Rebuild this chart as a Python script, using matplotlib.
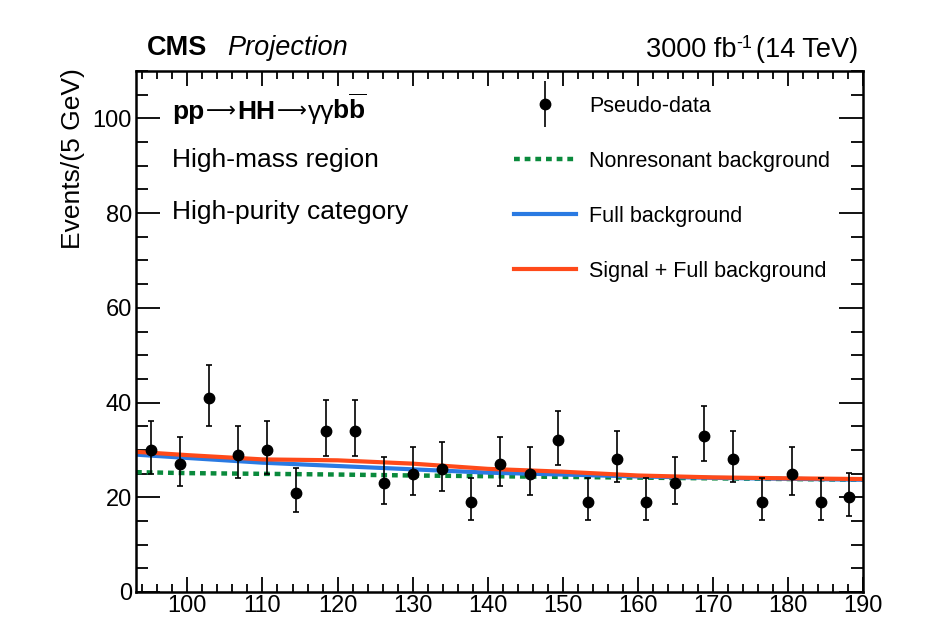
import numpy as np
import matplotlib.pyplot as plt
from matplotlib.ticker import MultipleLocator
from matplotlib.legend_handler import HandlerErrorbar
from matplotlib.transforms import IdentityTransform

plt.rcParams['font.family'] = ['Liberation Sans', 'DejaVu Sans']
plt.rcParams['mathtext.fontset'] = 'custom'
plt.rcParams['mathtext.rm'] = 'Liberation Sans'
plt.rcParams['mathtext.it'] = 'Liberation Sans:italic'
plt.rcParams['mathtext.bf'] = 'Liberation Sans:bold'

# pseudo-data (bin centres, counts)
mass = [95.1, 99.0, 102.9, 106.8, 110.6, 114.5, 118.4, 122.3, 126.2, 130.0,
        133.9, 137.8, 141.7, 145.6, 149.4, 153.3, 157.2, 161.1, 165.0, 168.8,
        172.7, 176.6, 180.5, 184.4, 188.2]
events = [30, 27, 41, 29, 30, 21, 34, 34, 23, 25,
          26, 19, 27, 25, 32, 19, 28, 19, 23, 33,
          28, 19, 25, 19, 20]

# fitted curves, read at a few masses
curve_x = [93.15, 100, 110, 120, 130, 140, 150, 160, 170, 180, 190]
nonres = [25.3, 25.1, 24.95, 24.8, 24.6, 24.45, 24.3, 24.15, 24.0, 23.85, 23.7]
full_bkg = [29.0, 28.3, 27.3, 26.6, 25.9, 25.2, 24.8, 24.4, 24.1, 23.9, 23.7]
sig_bkg = [29.6, 28.9, 28.0, 27.8, 27.1, 26.0, 25.4, 24.6, 24.2, 24.0, 23.85]

events = np.array(events, dtype=float)
err_lo = np.sqrt(events + 0.25) - 0.5
err_hi = np.sqrt(events + 0.25) + 0.6

fig = plt.figure(figsize=(9.27, 6.18), dpi=100)
ax = fig.add_axes([136 / 927, 1 - 592 / 618, 727 / 927, 521 / 618])
renderer = fig.canvas.get_renderer()


def chain(x, y, parts, align='left'):
    # lay text pieces side by side on one baseline, pixel coords
    arts = [fig.text(0, 0, s, transform=IdentityTransform(), va='baseline',
                     ha='left', **kw) for s, kw, dy, gap in parts]
    widths = [a.get_window_extent(renderer).width + p[3]
              for a, p in zip(arts, parts)]
    if align == 'right':
        x -= sum(widths)
    for a, w, p in zip(arts, widths, parts):
        a.set_position((x, y + p[2]))
        x += w


ax.plot(curve_x, nonres, color='#0a8a3c', lw=3.2, ls=(0, (1.3, 1.1)),
        label='Nonresonant background')
ax.plot(curve_x, full_bkg, color='#2a7ae2', lw=3, label='Full background')
ax.plot(curve_x, sig_bkg, color='#ff4a1a', lw=3, label='Signal + Full background')
ax.errorbar(mass, events, yerr=[err_lo, err_hi], fmt='o', color='black',
            ms=7.5, elinewidth=1.2, capsize=2.5, capthick=1.2, zorder=5)
# legend proxy without caps
proxy = ax.errorbar([], [], yerr=[], fmt='o', color='black', ms=7.5,
                    elinewidth=1.2, capsize=0, label='Pseudo-data')

ax.set_xlim(93.15, 190)
ax.set_ylim(0, 110)
ax.xaxis.set_major_locator(MultipleLocator(10))
ax.xaxis.set_minor_locator(MultipleLocator(2))
ax.yaxis.set_major_locator(MultipleLocator(20))
ax.yaxis.set_minor_locator(MultipleLocator(5))
ax.tick_params(which='both', direction='in', top=True, right=True,
               labelsize=17, width=1.3, colors='black')
ax.tick_params(axis='x', which='major', length=11, pad=2.5)
ax.tick_params(axis='x', which='minor', length=5.5)
ax.tick_params(axis='y', which='major', length=17, pad=3)
ax.tick_params(axis='y', which='minor', length=8.5)
for s in ax.spines.values():
    s.set_linewidth(1.8)

ax.set_ylabel('Events/(5 GeV)', fontsize=19, ha='right')
ax.yaxis.set_label_coords(-0.07, 1.005)

fig.text(147 / 927, 1 - 48 / 618, 'CMS', fontsize=19.5, fontweight='bold',
         va='center')
fig.text(227 / 927, 1 - 48 / 618, 'Projection', fontsize=19.5, style='italic',
         va='center')
chain(858, 618 - 57,
      [('3000 fb', dict(fontsize=19.5), 0, 0),
       ('-1', dict(fontsize=13), 9, 4),
       ('(14 TeV)', dict(fontsize=19.5), 0, 0)], align='right')

# process label built from pieces (bold / regular)
arrow = dict(fontsize=15, family=['DejaVu Sans'])
chain(172, 618 - 119,
      [('pp', dict(fontsize=19, fontweight='bold'), 0, 1.5),
       ('\u27f6', arrow, 2, 1.5),
       ('HH', dict(fontsize=19, fontweight='bold'), 0, 1.5),
       ('\u27f6', arrow, 2, 1.5),
       ('\u03b3\u03b3', dict(fontsize=19), 0, -2),
       (r'$\mathbf{b}\overline{\mathbf{b}}$', dict(fontsize=19), 0, 0)])

ax.text(0.05, 0.83, 'High-mass region', transform=ax.transAxes, fontsize=19,
        va='center')
ax.text(0.05, 0.73, 'High-purity category', transform=ax.transAxes,
        fontsize=19, va='center')

handles, labels = ax.get_legend_handles_labels()
order = [3, 0, 1, 2]
ax.legend([handles[i] for i in order], [labels[i] for i in order],
          loc='upper left', bbox_to_anchor=(0.493, 0.99), frameon=False,
          fontsize=15.5, handlelength=2.9, handletextpad=0.6,
          labelspacing=1.58,
          handler_map={type(proxy): HandlerErrorbar(yerr_size=1.05)})

fig.savefig('out.png', dpi=100)
